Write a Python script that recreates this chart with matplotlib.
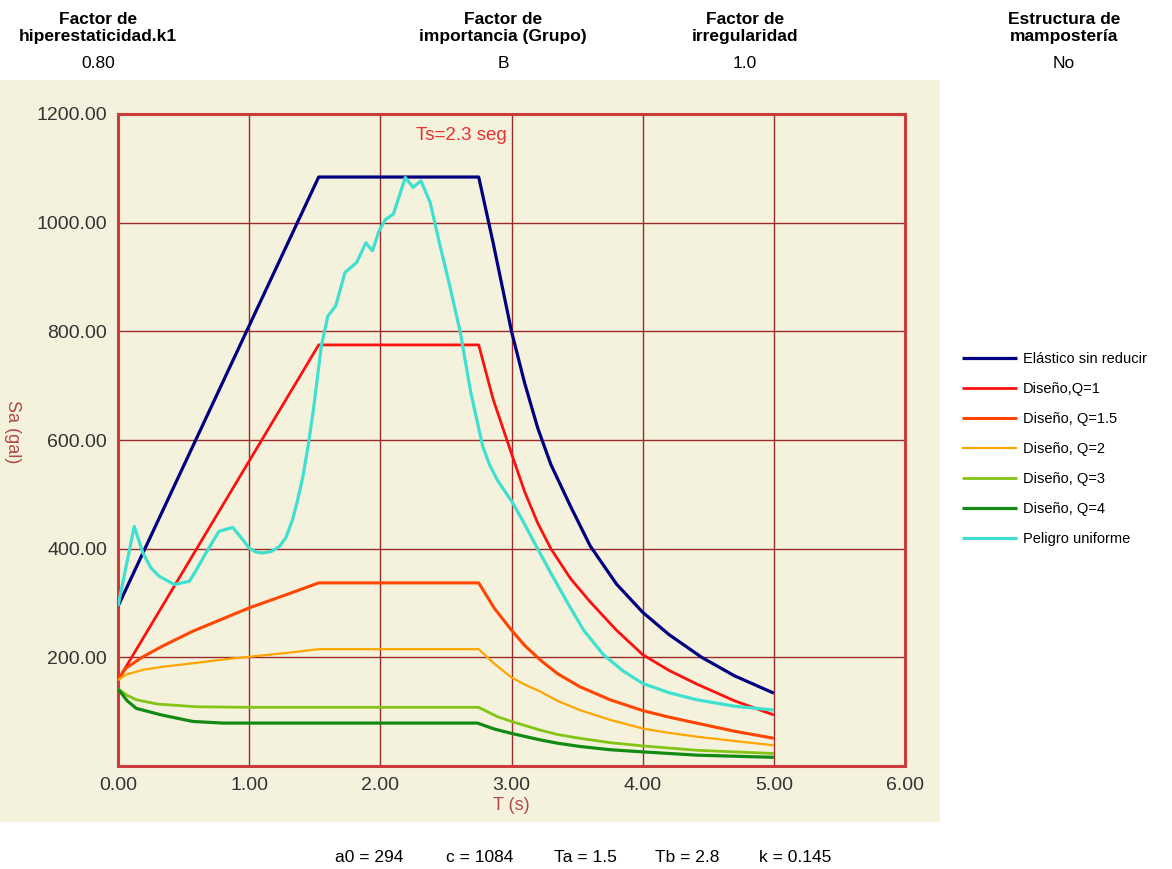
import matplotlib
matplotlib.use("Agg")
import matplotlib.pyplot as plt
import matplotlib.patches as patches

plt.rcParams["font.family"] = ["Liberation Sans", "DejaVu Sans"]

# Header fields
header_titles = ["Factor de\nhiperestaticidad.k1", "Factor de\nimportancia (Grupo)",
                 "Factor de\nirregularidad", "Estructura de\nmampostería"]
header_values = ["0.80", "B", "1.0", "No"]
footer_items = ["a0 = 294", "c = 1084", "Ta = 1.5", "Tb = 2.8", "k = 0.145"]

# Spectra (T in s, Sa in gal)
t_elastic = [0, 1.53, 2.75, 2.86, 3.0, 3.1, 3.2, 3.3, 3.45, 3.6, 3.8, 4.0, 4.2, 4.45, 4.7, 5.0]
sa_elastic = [294, 1084, 1084, 963, 800, 705, 622, 555, 478, 405, 335, 283, 242, 200, 166, 134]

t_q1 = [0, 1.53, 2.75, 2.86, 3.0, 3.1, 3.2, 3.3, 3.45, 3.6, 3.8, 4.0, 4.2, 4.42, 4.7, 5.0]
sa_q1 = [158, 775, 775, 675, 575, 505, 447, 400, 345, 302, 250, 205, 176, 150, 120, 94]

t_q15 = [0, 0.06, 0.19, 0.35, 0.57, 0.8, 1.0, 1.28, 1.53, 2.75, 2.87, 3.0, 3.1,
         3.22, 3.35, 3.52, 3.75, 4.0, 4.2, 4.41, 4.7, 5.0]
sa_q15 = [158, 180, 201, 222, 248, 271, 291, 315, 337, 337, 290, 250, 222,
          195, 170, 146, 122, 102, 90, 79, 64, 51]

t_q2 = [0, 0.06, 0.19, 0.35, 0.57, 0.8, 1.0, 1.28, 1.53, 2.75, 2.87, 3.0, 3.1,
        3.22, 3.35, 3.52, 3.75, 4.0, 4.2, 4.41, 4.7, 5.0]
sa_q2 = [158, 168, 177, 183, 189, 196, 201, 208, 215, 215, 188, 163, 150,
         137, 120, 103, 85, 69, 61, 54, 46, 38]

t_q3 = [0, 0.07, 0.14, 0.3, 0.6, 1.0, 2.75, 2.89, 3.0, 3.22, 3.35, 3.52, 3.75, 4.0, 4.41, 4.7, 5.0]
sa_q3 = [142, 130, 122, 114, 109, 108, 108, 91, 82, 66, 58, 51, 43, 37, 29, 26, 23]

t_q4 = [0, 0.07, 0.14, 0.33, 0.57, 0.8, 2.74, 2.87, 3.0, 3.22, 3.35, 3.52, 3.75, 4.0, 4.41, 4.7, 5.0]
sa_q4 = [142, 120, 106, 94, 82, 79, 79, 68, 60, 48, 42, 36, 30, 26, 20, 18, 16]

t_uniform = [0, 0.124, 0.19, 0.25, 0.315, 0.43, 0.544, 0.6, 0.67, 0.77, 0.875, 0.95,
             1.0, 1.05, 1.1, 1.17, 1.23, 1.28, 1.33, 1.37, 1.41, 1.45, 1.49, 1.55,
             1.60, 1.66, 1.73, 1.82, 1.89, 1.94, 1.99, 2.04, 2.10, 2.19, 2.25, 2.31,
             2.38, 2.45, 2.53, 2.61, 2.69, 2.78, 2.83, 2.89, 3.01, 3.1, 3.19, 3.3,
             3.44, 3.55, 3.7, 3.85, 4.0, 4.2, 4.41, 4.7, 5.0]
sa_uniform = [294, 441, 392, 365, 349, 334, 340, 362, 392, 432, 439, 417,
              401, 394, 392, 395, 404, 420, 453, 490, 533, 590, 656, 773,
              828, 847, 908, 927, 963, 948, 985, 1006, 1016, 1083, 1065, 1077,
              1037, 963, 883, 798, 687, 589, 556, 527, 484, 445, 404, 355,
              295, 250, 205, 175, 152, 135, 122, 110, 103]

series = [
    ("Elástico sin reducir", t_elastic, sa_elastic, "#000080", 2.3),
    ("Diseño,Q=1", t_q1, sa_q1, "#FF1010", 2.0),
    ("Diseño, Q=1.5", t_q15, sa_q15, "#FF4500", 2.2),
    ("Diseño, Q=2", t_q2, sa_q2, "#FFA500", 1.6),
    ("Diseño, Q=3", t_q3, sa_q3, "#84C417", 2.0),
    ("Diseño, Q=4", t_q4, sa_q4, "#138A13", 2.3),
    ("Peligro uniforme", t_uniform, sa_uniform, "#40E0D0", 2.3),
]

W, H = 1172, 869
fig = plt.figure(figsize=(W / 100, H / 100), dpi=100)
fig.patch.set_facecolor("white")

bg = "#F4F2DC"
fig.add_artist(patches.Rectangle((0, 1 - 822 / H), 940 / W, (822 - 80) / H,
                                 transform=fig.transFigure, facecolor=bg,
                                 edgecolor="none", zorder=0))

ax = fig.add_axes([118 / W, 1 - 766 / H, (905 - 118) / W, (766 - 114) / H])
ax.set_facecolor(bg)

for label, t, sa, color, lw in series:
    ax.plot(t, sa, color=color, lw=lw, label=label, solid_joinstyle="round",
            solid_capstyle="butt", zorder=3)

ax.set_xlim(0, 6)
ax.set_ylim(0, 1200)
ax.set_xticks(range(0, 7))
ax.set_xticklabels([f"{v:.2f}" for v in range(0, 7)])
ax.set_yticks(range(200, 1201, 200))
ax.set_yticklabels([f"{v:.2f}" for v in range(200, 1201, 200)])
ax.tick_params(length=0, labelsize=14, labelcolor="#333333", pad=8)
ax.grid(True, color="#9A2B2B", lw=1.0, zorder=1)
for s in ax.spines.values():
    s.set_color("#CC3B3B")
    s.set_linewidth(2.2)

ax.set_xlabel("T (s)", color="#B04A4A", fontsize=13, labelpad=2)
fig.text(12 / W, 1 - 432 / H, "Sa (gal)", color="#B04A4A", fontsize=13,
         rotation=-90, ha="center", va="center")
ax.text(2.27, 1161, "Ts=2.3 seg", color="#E8312F", fontsize=13.5,
        ha="left", va="center")

# Header
for cx, title, val in zip([98, 503, 745, 1064], header_titles, header_values):
    fig.text(cx / W, 1 - 28 / H, title, ha="center", va="center",
             fontsize=12.5, fontweight="bold", linespacing=1.25)
    fig.text(cx / W, 1 - 63 / H, val, ha="center", va="center", fontsize=12.5)

# Footer
for cx, item in zip([369, 480, 585, 687, 795], footer_items):
    fig.text(cx / W, 1 - 858 / H, item, ha="center", va="center", fontsize=12.5)

fig.legend(loc="center left", bbox_to_anchor=(962 / W, 1 - 449 / H),
           frameon=False, fontsize=10.5, handlelength=3.8, handletextpad=0.35,
           labelspacing=1.1, borderpad=0, borderaxespad=0)

fig.savefig("out.png", dpi=100, facecolor="white")
